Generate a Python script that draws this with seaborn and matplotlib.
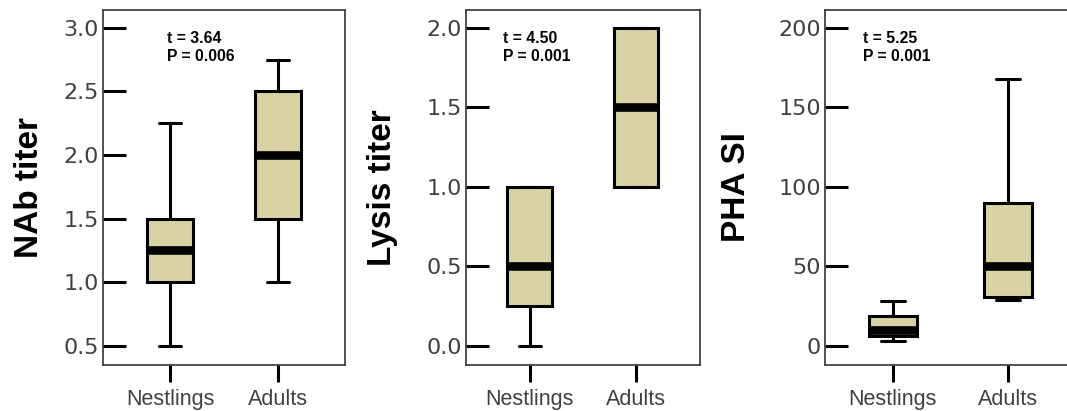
import numpy as np
import pandas as pd
import matplotlib
matplotlib.use("Agg")
import matplotlib.pyplot as plt
import seaborn as sns

# groups on the x axis
groups = ["Nestlings", "Adults"]

# five-number summaries: min, Q1, median, Q3, max
nab_nestlings = [0.5, 1.0, 1.25, 1.5, 2.25]
nab_adults = [1.0, 1.5, 2.0, 2.5, 2.75]
lysis_nestlings = [0.0, 0.25, 0.5, 1.0, 1.0]
lysis_adults = [1.0, 1.0, 1.5, 2.0, 2.0]
pha_nestlings = [3, 6, 10, 19, 28]
pha_adults = [29, 31, 50, 90, 168]

ylabels = ["NAb titer", "Lysis titer", "PHA SI"]
stats_text = ["t = 3.64\nP = 0.006", "t = 4.50\nP = 0.001", "t = 5.25\nP = 0.001"]
yticks = [[0.5, 1.0, 1.5, 2.0, 2.5, 3.0],
          [0.0, 0.5, 1.0, 1.5, 2.0],
          [0, 50, 100, 150, 200]]

sns.set_theme(style="white")
plt.rcParams["font.family"] = ["Liberation Sans", "DejaVu Sans"]

fig = plt.figure(figsize=(10.67, 4.11), dpi=100)

# panel layout (figure fractions)
panels = [
    dict(rect=[0.0965, 0.112, 0.2268, 0.864], xlim=(-0.62, 1.62), ylim=(0.35, 3.14),
         fmt="{:.1f}", lab_x=-0.24, txt_x=0.265,
         data=(nab_nestlings, nab_adults)),
    dict(rect=[0.4367, 0.112, 0.2193, 0.864], xlim=(-0.6, 1.6), ylim=(-0.12, 2.113),
         fmt="{:.1f}", lab_x=-0.29, txt_x=0.158,
         data=(lysis_nestlings, lysis_adults)),
    dict(rect=[0.7732, 0.112, 0.236, 0.864], xlim=(-0.59, 1.6), ylim=(-11.9, 211.3),
         fmt="{:.0f}", lab_x=-0.29, txt_x=0.15,
         data=(pha_nestlings, pha_adults)),
]

box_color = "#d8d2a4"
text_gray = "#404040"

for i, p in enumerate(panels):
    ax = fig.add_axes(p["rect"])
    nest, adult = p["data"]
    df = pd.DataFrame({
        "group": [groups[0]] * len(nest) + [groups[1]] * len(adult),
        "value": list(nest) + list(adult),
    })
    sns.boxplot(data=df, x="group", y="value", order=groups, ax=ax,
                color=box_color, saturation=1, linecolor="black", linewidth=2.2,
                width=0.42, whis=(0, 100), showfliers=False,
                medianprops=dict(linewidth=6.2, color="black", solid_capstyle="butt"))

    ax.set_xlim(*p["xlim"])
    ax.set_ylim(*p["ylim"])
    ax.set_yticks(yticks[i])
    ax.set_yticklabels([p["fmt"].format(v) for v in yticks[i]],
                       family="DejaVu Sans")
    ax.set_xlabel("")
    ax.set_ylabel(ylabels[i], fontsize=24, fontweight="bold", color="black")
    ax.yaxis.set_label_coords(p["lab_x"], 0.5)

    ax.tick_params(axis="y", left=True, direction="in", length=16.5, width=2.2,
                   color="black", labelsize=16, labelcolor=text_gray, pad=3)
    ax.tick_params(axis="x", bottom=True, direction="out", length=12, width=2.2,
                   color="black", labelsize=15.5, labelcolor=text_gray, pad=5)
    for s in ax.spines.values():
        s.set_visible(True)
        s.set_color("#333333")
        s.set_linewidth(1.2)

    ax.text(p["txt_x"], 0.94, stats_text[i], transform=ax.transAxes,
            fontsize=11.3, fontweight="bold", va="top", ha="left",
            linespacing=1.2, color="black")

fig.savefig("out.png", dpi=100)
